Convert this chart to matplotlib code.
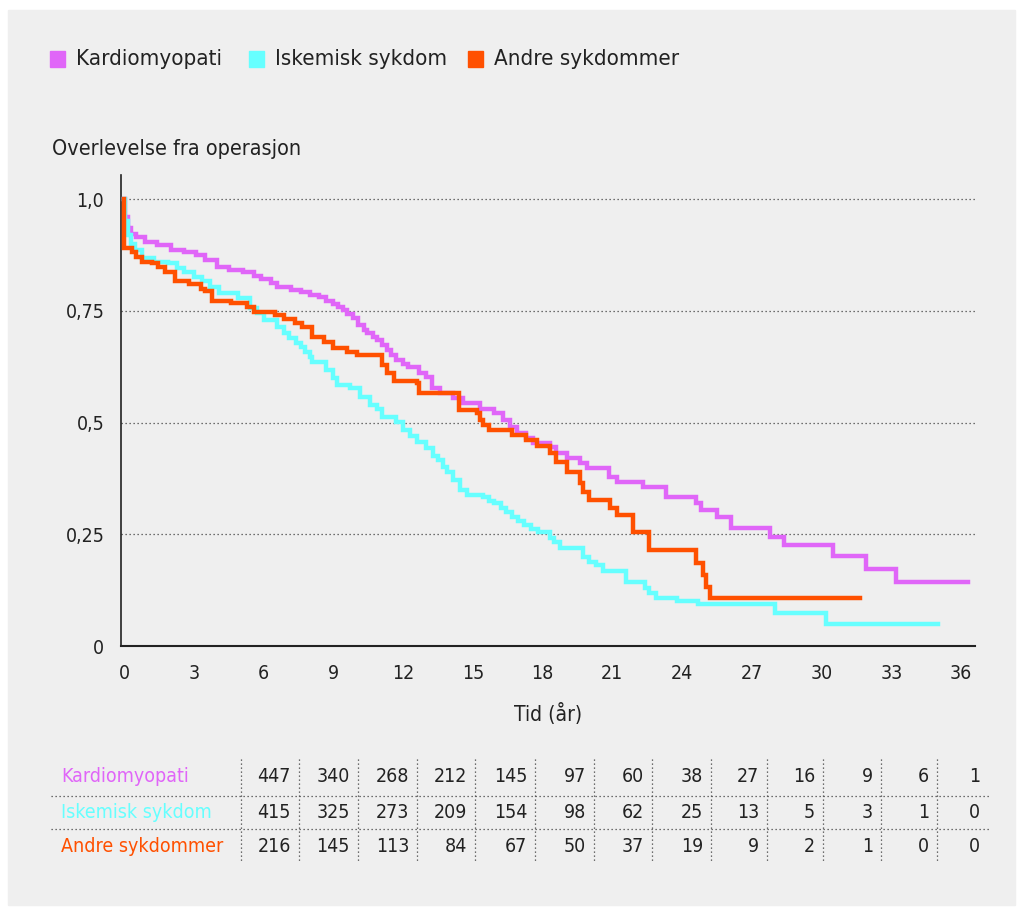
import numpy as np
import matplotlib.pyplot as plt
from matplotlib.patches import Rectangle
from matplotlib.lines import Line2D

# ---- data (step knots: time in years, survival) ----
kard_t = [0, 0.05, 0.15, 0.3, 0.5, 0.9, 1.4, 2.0, 2.6, 3.1, 3.5, 4.0, 4.5, 5.1, 5.6, 5.9,
          6.3, 6.6, 7.2, 7.6, 8.0, 8.4, 8.7, 9.0, 9.2, 9.4, 9.6, 9.85, 10.06, 10.3, 10.45,
          10.7, 10.9, 11.1, 11.3, 11.5, 11.7, 12.0, 12.2, 12.7, 13.0, 13.25, 13.6, 14.15,
          14.6, 15.3, 15.9, 16.3, 16.6, 16.9, 17.3, 17.6, 18.3, 18.6, 19.05, 19.6, 19.9,
          20.85, 21.2, 22.3, 23.3, 24.6, 24.8, 25.5, 26.1, 27.8, 28.4, 30.5, 31.9, 33.2, 36.3]
kard_s = [1.0, 0.96, 0.935, 0.922, 0.915, 0.905, 0.898, 0.886, 0.881, 0.876, 0.864, 0.848,
          0.842, 0.836, 0.829, 0.822, 0.812, 0.803, 0.797, 0.792, 0.786, 0.78, 0.773, 0.766,
          0.759, 0.751, 0.744, 0.735, 0.718, 0.708, 0.70, 0.692, 0.684, 0.673, 0.662, 0.652,
          0.641, 0.632, 0.624, 0.611, 0.602, 0.578, 0.566, 0.556, 0.543, 0.530, 0.521, 0.506,
          0.49, 0.476, 0.465, 0.454, 0.445, 0.432, 0.42, 0.409, 0.398, 0.378, 0.367, 0.355,
          0.333, 0.320, 0.305, 0.289, 0.263, 0.244, 0.226, 0.201, 0.172, 0.143, 0.143]

iske_t = [0, 0.05, 0.15, 0.3, 0.47, 0.77, 1.3, 1.9, 2.3, 2.6, 3.0, 3.35, 3.7, 4.1, 4.9, 5.4,
          5.7, 6.0, 6.6, 6.9, 7.1, 7.4, 7.6, 7.8, 8.0, 8.1, 8.7, 9.0, 9.15, 9.7, 10.15, 10.6,
          10.9, 11.1, 11.7, 12.0, 12.3, 12.6, 13.0, 13.3, 13.5, 13.7, 13.9, 14.15, 14.45,
          14.75, 15.45, 15.7, 15.9, 16.2, 16.45, 16.7, 16.95, 17.2, 17.5, 17.8, 18.3, 18.5,
          18.75, 19.75, 20.0, 20.3, 20.6, 21.6, 22.4, 22.6, 22.9, 23.8, 24.7, 28.0, 30.2, 35.0]
iske_s = [1.0, 0.95, 0.92, 0.90, 0.886, 0.868, 0.86, 0.856, 0.845, 0.838, 0.826, 0.816,
          0.803, 0.79, 0.779, 0.756, 0.745, 0.73, 0.714, 0.70, 0.69, 0.678, 0.669, 0.657,
          0.646, 0.635, 0.617, 0.60, 0.584, 0.577, 0.557, 0.539, 0.53, 0.512, 0.502, 0.483,
          0.47, 0.456, 0.443, 0.425, 0.416, 0.40, 0.39, 0.371, 0.349, 0.338, 0.333, 0.325,
          0.32, 0.309, 0.30, 0.289, 0.28, 0.271, 0.262, 0.255, 0.242, 0.232, 0.219, 0.199,
          0.188, 0.181, 0.168, 0.143, 0.13, 0.118, 0.108, 0.10, 0.093, 0.074, 0.049, 0.049]

andre_t = [0, 0.02, 0.33, 0.5, 0.77, 1.2, 1.46, 1.76, 2.2, 2.8, 3.3, 3.5, 3.8, 4.6, 5.3, 5.6,
           6.5, 6.9, 7.35, 7.65, 8.1, 8.6, 9.0, 9.6, 10.0, 11.1, 11.3, 11.6, 12.6, 12.7, 14.4,
           15.2, 15.3, 15.45, 15.7, 16.7, 17.3, 17.75, 18.3, 18.6, 19.05, 19.6, 19.75, 20.0,
           20.9, 21.2, 21.9, 22.6, 24.6, 24.9, 25.05, 25.2, 31.65]
andre_s = [1.0, 0.89, 0.881, 0.87, 0.859, 0.857, 0.848, 0.838, 0.817, 0.81, 0.80, 0.795,
           0.772, 0.767, 0.758, 0.747, 0.74, 0.732, 0.723, 0.713, 0.691, 0.68, 0.666, 0.657,
           0.651, 0.629, 0.611, 0.593, 0.588, 0.566, 0.528, 0.521, 0.506, 0.494, 0.483, 0.472,
           0.462, 0.448, 0.432, 0.412, 0.39, 0.365, 0.345, 0.327, 0.309, 0.293, 0.255, 0.215,
           0.186, 0.159, 0.132, 0.107, 0.107]

groups = ['Kardiomyopati', 'Iskemisk sykdom', 'Andre sykdommer']
colors = ['#e066f8', '#66ffff', '#ff5000']
at_risk = [[447, 340, 268, 212, 145, 97, 60, 38, 27, 16, 9, 6, 1],
           [415, 325, 273, 209, 154, 98, 62, 25, 13, 5, 3, 1, 0],
           [216, 145, 113, 84, 67, 50, 37, 19, 9, 2, 1, 0, 0]]
xticks = np.arange(0, 37, 3)
yticks = [0, 0.25, 0.5, 0.75, 1.0]
ylabels = ['0', '0,25', '0,5', '0,75', '1,0']

plt.rcParams['font.family'] = ['DejaVu Sans']
plt.rcParams['font.stretch'] = 'condensed'

W, H = 1023, 914
fig = plt.figure(figsize=(W / 100, H / 100), dpi=100, facecolor='white')
bg = '#efefef'
fig.patches.append(Rectangle((8 / W, 1 - 905 / H), 1007 / W, 895 / H,
                             transform=fig.transFigure, color=bg, zorder=-10))

def fx(px):
    return px / W

def fy(py):
    return 1 - py / H

ax = fig.add_axes([fx(121), fy(646), fx(975) - fx(121), fy(175) - fy(646)])
ax.set_facecolor('none')
for t, s, c in zip([kard_t, iske_t, andre_t], [kard_s, iske_s, andre_s], colors):
    ax.step(t, s, where='post', color=c, lw=3.2, solid_joinstyle='miter', zorder=3)

ax.set_xlim(-0.13, 36.6)
ax.set_ylim(0, 1.054)
for y in yticks[1:]:
    ax.axhline(y, color='#444444', lw=0.9, ls=(0, (1, 2.2)), zorder=1)
ax.spines['top'].set_visible(False)
ax.spines['right'].set_visible(False)
ax.spines['left'].set_color('#222222')
ax.spines['bottom'].set_color('#222222')
ax.spines['left'].set_linewidth(1.2)
ax.spines['bottom'].set_linewidth(1.5)
ax.set_xticks(xticks)
ax.set_xticklabels([str(v) for v in xticks])
ax.set_yticks(yticks)
ax.set_yticklabels(ylabels)
ax.tick_params(length=0, labelsize=14, colors='#222222')
ax.tick_params(axis='x', pad=13)
ax.tick_params(axis='y', pad=12)
ax.set_xlabel('Tid (år)', fontsize=15, color='#222222', labelpad=14)

fig.text(fx(52), fy(149), 'Overlevelse fra operasjon', fontsize=15.5, color='#222222',
         va='center', ha='left')

# legend
leg_x = [50, 249, 468]
for x0, name, c in zip(leg_x, groups, colors):
    fig.patches.append(Rectangle((fx(x0), fy(67)), 15 / W, 16 / H,
                                 transform=fig.transFigure, color=c))
    fig.text(fx(x0 + 26), fy(59), name, fontsize=16, color='#222222', va='center', ha='left')

# at-risk table
row_y = [776, 812, 846]
seps = [241, 299, 358, 417, 475, 535, 594, 652, 711, 767, 823, 881, 937]
rights = [s - 8 for s in seps[1:]] + [980]
for name, c, vals, y in zip(groups, colors, at_risk, row_y):
    fig.text(fx(61), fy(y), name, fontsize=14, color=c, va='center', ha='left')
    for r, v in zip(rights, vals):
        fig.text(fx(r), fy(y), str(v), fontsize=14, color='#222222', va='center', ha='right')
for x in seps:
    fig.add_artist(Line2D([fx(x), fx(x)], [fy(759), fy(862)], transform=fig.transFigure,
                          color='#444444', lw=0.9, ls=(0, (1, 2.2))))
for y in [796, 829]:
    fig.add_artist(Line2D([fx(51), fx(991)], [fy(y), fy(y)], transform=fig.transFigure,
                          color='#444444', lw=0.9, ls=(0, (1, 2.2))))

fig.savefig('out.png', dpi=100, facecolor='white')
